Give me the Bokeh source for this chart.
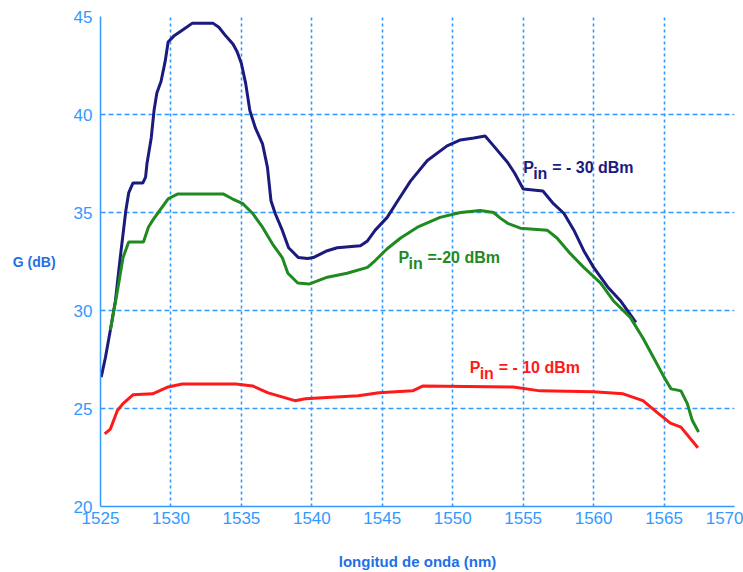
from bokeh.plotting import figure
from bokeh.models import Label, FixedTicker
from bokeh.embed import file_html
from bokeh.resources import INLINE

# ---- data ----
x_ticks = [1525, 1530, 1535, 1540, 1545, 1550, 1555, 1560, 1565, 1570]
y_ticks = [20, 25, 30, 35, 40, 45]

blue_x = [1525.05, 1525.35, 1525.7, 1526.06, 1526.4, 1526.8, 1527.0, 1527.3, 1528.0, 1528.2,
          1528.3, 1528.6, 1528.8, 1529.0, 1529.3, 1529.6, 1529.8, 1530.2, 1530.8, 1531.5,
          1533.0, 1533.4, 1533.9, 1534.4, 1534.7, 1535.0, 1535.3, 1535.6, 1536.0, 1536.5,
          1536.85, 1537.1, 1537.4, 1537.9, 1538.35, 1539.05, 1539.7, 1540.1, 1541.1, 1541.8,
          1543.45, 1543.95, 1544.5, 1545.35, 1546.1, 1547.0, 1548.2, 1549.6, 1550.55, 1551.5,
          1552.3, 1552.9, 1553.9, 1554.4, 1555.0, 1556.4, 1557.15, 1557.9, 1558.6, 1559.3,
          1560.0, 1561.0, 1561.9, 1563.0]
blue_y = [26.6, 27.6, 29.0, 30.5, 32.7, 35.1, 36.0, 36.5, 36.5, 36.8,
          37.5, 38.8, 40.2, 41.1, 41.7, 42.75, 43.7, 44.0, 44.3, 44.65,
          44.65, 44.45, 44.0, 43.6, 43.2, 42.6, 41.6, 40.2, 39.3, 38.5,
          37.3, 35.6, 34.95, 34.1, 33.2, 32.7, 32.65, 32.7, 33.05, 33.2,
          33.3, 33.55, 34.1, 34.75, 35.6, 36.6, 37.65, 38.4, 38.7, 38.8,
          38.9, 38.4, 37.55, 37.0, 36.2, 36.1, 35.45, 34.95, 34.1, 33.05,
          32.2, 31.2, 30.5, 29.4]

green_x = [1525.7, 1526.2, 1526.6, 1527.0, 1528.05, 1528.4, 1528.7, 1529.1, 1529.8, 1530.5,
           1533.7, 1534.35, 1535.1, 1535.8, 1536.5, 1537.2, 1537.9, 1538.3, 1539.0, 1539.8,
           1541.1, 1542.5, 1543.95, 1544.5, 1545.35, 1546.3, 1547.5, 1549.1, 1550.55, 1551.95,
           1552.9, 1553.4, 1553.9, 1554.8, 1556.7, 1557.4, 1558.35, 1559.3, 1560.5, 1561.4,
           1562.6, 1563.5, 1564.25, 1565.0, 1565.5, 1566.2, 1566.65, 1567.0, 1567.45]
green_y = [29.0, 31.0, 32.7, 33.5, 33.5, 34.25, 34.6, 35.0, 35.7, 35.95,
           35.95, 35.7, 35.45, 34.95, 34.25, 33.4, 32.7, 31.9, 31.4, 31.35,
           31.7, 31.9, 32.2, 32.55, 33.15, 33.7, 34.25, 34.75, 35.0, 35.1,
           35.0, 34.7, 34.45, 34.2, 34.1, 33.7, 32.9, 32.2, 31.4, 30.5,
           29.65, 28.6, 27.6, 26.6, 26.0, 25.9, 25.25, 24.4, 23.8]

red_x = [1525.3, 1525.7, 1526.2, 1526.6, 1527.3, 1528.7, 1529.8, 1530.8, 1534.6, 1535.8,
         1536.9, 1538.8, 1539.55, 1540.75, 1543.3, 1544.75, 1547.15, 1547.9, 1554.3, 1556.2,
         1560.0, 1562.1, 1563.5, 1564.5, 1565.45, 1566.2, 1567.4]
red_y = [23.7, 23.95, 24.9, 25.25, 25.7, 25.75, 26.1, 26.25, 26.25, 26.15,
         25.8, 25.4, 25.5, 25.55, 25.65, 25.8, 25.9, 26.15, 26.1, 25.9,
         25.85, 25.75, 25.4, 24.8, 24.25, 24.05, 23.0]

series_colors = ["#1b1b7e", "#1f8a1f", "#ff1a1a"]
label_rest = ["= - 30 dBm", "=-20 dBm", "=  - 10 dBm"]
label_x = [1555.0, 1546.15, 1551.2]
label_y = [37.3, 32.7, 27.1]

x_title = "longitud de onda (nm)"
y_title = "G (dB)"

# ---- figure ----
TICK_BLUE = "#3399ff"
TITLE_BLUE = "#1f6fe6"
FONT = "Liberation Sans"

p = figure(width=743, height=572, x_range=(1525, 1570), y_range=(20, 45),
           output_backend="svg", toolbar_location=None,
           min_border_left=100, min_border_right=9, min_border_top=16, min_border_bottom=66)
p.outline_line_color = None
p.background_fill_color = "white"
p.border_fill_color = "white"

for ax, ticks in ((p.xaxis[0], x_ticks), (p.yaxis[0], y_ticks)):
    ax.ticker = FixedTicker(ticks=ticks)
    ax.axis_line_color = TICK_BLUE
    ax.axis_line_width = 1.5
    ax.major_tick_in = 0
    ax.major_tick_out = 0
    ax.minor_tick_line_color = None
    ax.major_label_text_color = TICK_BLUE
    ax.major_label_text_font = FONT
    ax.major_label_text_font_size = "17px"
    ax.axis_label_text_font = FONT
    ax.axis_label_text_font_style = "bold"
    ax.axis_label_text_color = TITLE_BLUE

p.yaxis.major_label_standoff = 8
p.xaxis.major_label_standoff = 5
p.xaxis.axis_label = x_title
p.xaxis.axis_label_standoff = 26
p.xaxis.axis_label_text_font_size = "15px"

# y-axis title, horizontal, left of the tick labels
p.yaxis.axis_label = y_title
p.yaxis.axis_label_standoff = 15
p.yaxis.axis_label_text_font_size = "14px"
try:
    p.yaxis[0].axis_label_orientation = "horizontal"
except Exception:
    pass

p.xgrid.grid_line_dash = "3 3"
p.ygrid.grid_line_dash = "5 3"
for g in (p.xgrid[0], p.ygrid[0]):
    g.grid_line_color = TICK_BLUE
    g.grid_line_width = 1.6

for xs, ys, c in ((blue_x, blue_y, series_colors[0]),
                  (green_x, green_y, series_colors[1]),
                  (red_x, red_y, series_colors[2])):
    p.line(xs, ys, line_color=c, line_width=3)

# P_in labels
for tx, lx, ly, c in zip(label_rest, label_x, label_y, series_colors):
    common = dict(text_font=FONT, text_font_style="bold", text_color=c,
                  text_baseline="alphabetic", text_align="left", text_font_size="16px")
    p.add_layout(Label(x=lx, y=ly, text="P", **common))
    p.add_layout(Label(x=lx, y=ly, x_offset=10, y_offset=-6, text="in", **common))
    p.add_layout(Label(x=lx, y=ly, x_offset=29, text=tx, **common))

open("out.html", "w").write(file_html(p, INLINE))
